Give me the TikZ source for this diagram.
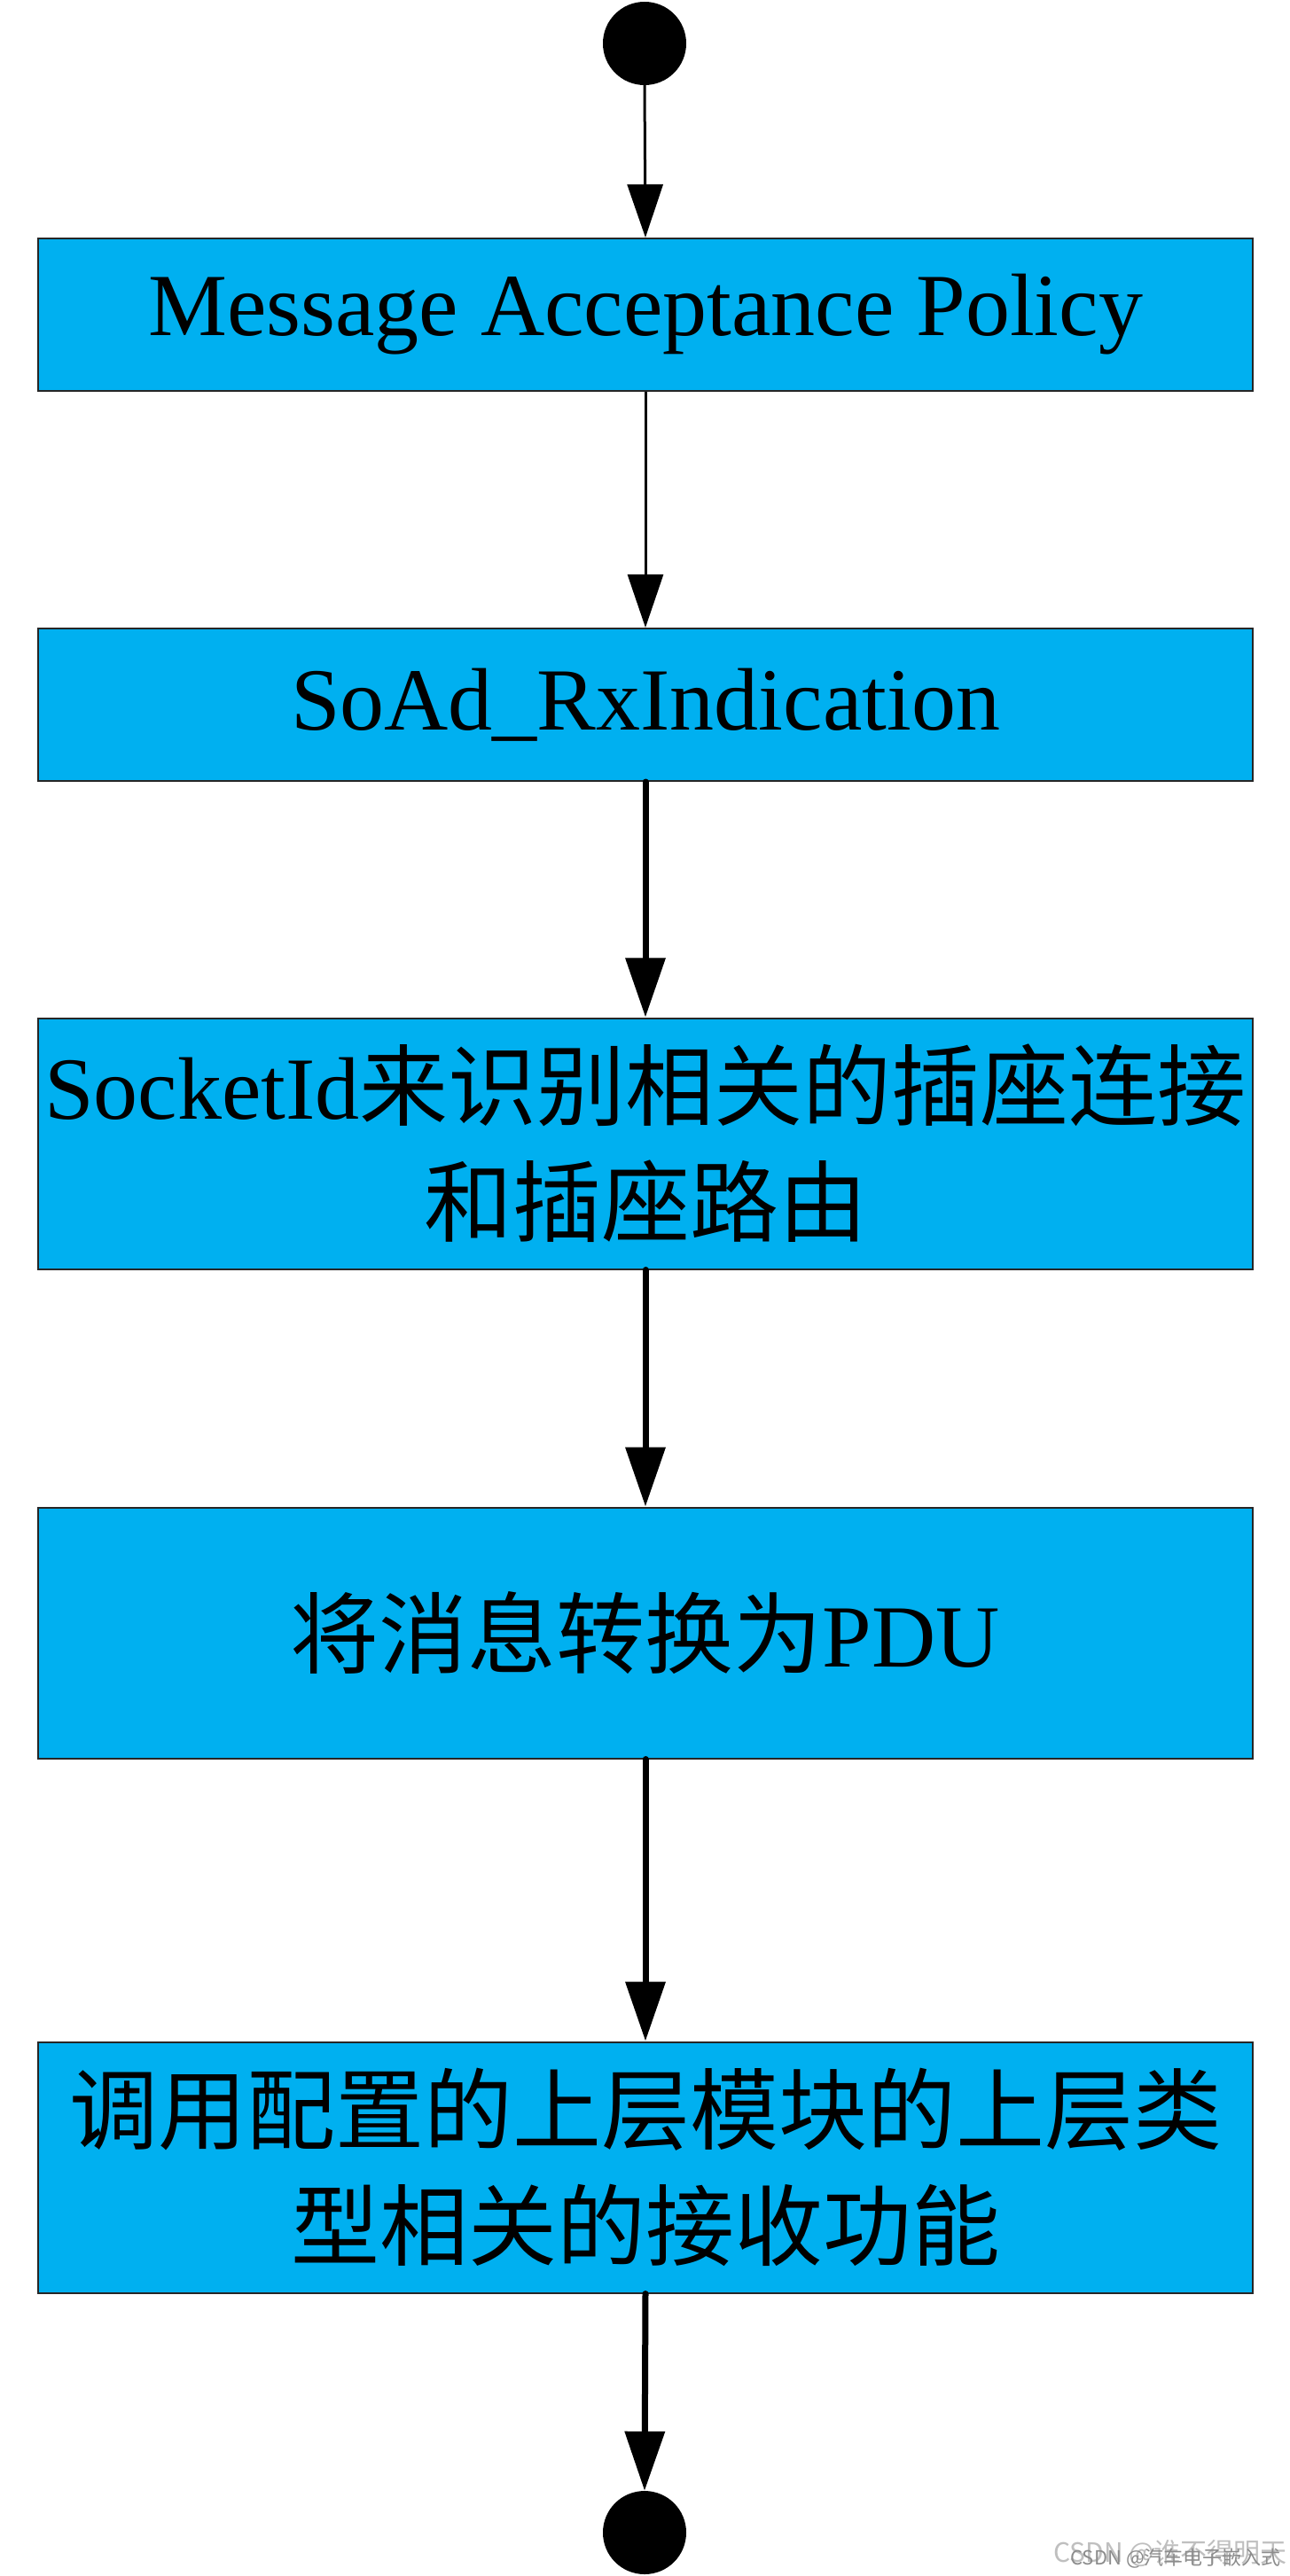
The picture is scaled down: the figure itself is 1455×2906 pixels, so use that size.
\documentclass[tikz,border=0pt]{standalone}
\usepackage{fontspec}
\setmainfont{Liberation Serif}
\newfontfamily\cjk{Noto Sans CJK SC}
\usetikzlibrary{arrows.meta}
\definecolor{boxblue}{HTML}{00B0F0}
\begin{document}
\begin{tikzpicture}[x=1pt,y=-1pt,
  flowbox/.style={draw=black!85,line width=2pt,fill=boxblue,rectangle,inner sep=0pt,
    minimum width=1370pt,align=center,font=\fontsize{100}{131}\selectfont},
  dot/.style={circle,fill=black,draw=none,minimum size=94pt,inner sep=0pt},
  thinarrow/.style={line width=3pt,-{Triangle[width=40pt,length=60pt]}},
  thickarrow/.style={line width=7pt,line cap=round,-{Triangle[width=44pt,length=67pt]}},
  wm/.style={inner sep=0pt,anchor=base east}]
\useasboundingbox (0,0) rectangle (1455,2906);
\node[dot] (s) at (727,49) {};
\node[flowbox,minimum height=172pt] (b1) at (728,355) {Message Acceptance Policy};
\node[flowbox,minimum height=172pt] (b2) at (728,795) {SoAd\_RxIndication};
\node[flowbox,minimum height=283pt] (b3) at (728,1290) {SocketId{\cjk 来识别相关的插座连接}\\{\cjk 和插座路由}};
\node[flowbox,minimum height=283pt] (b4) at (728,1842) {{\cjk 将消息转换为}PDU};
\node[flowbox,minimum height=283pt] (b5) at (728,2445) {{\cjk 调用配置的上层模块的上层类}\\{\cjk 型相关的接收功能}};
\node[dot] (e) at (727,2857) {};
\draw[thinarrow] (s.south) -- (b1.north);
\draw[thinarrow] (b1.south) -- (b2.north);
\draw[thickarrow] (b2.south) -- (b3.north);
\draw[thickarrow] (b3.south) -- (b4.north);
\draw[thickarrow] (b4.south) -- (b5.north);
\draw[thickarrow] (b5.south) -- (e.north);
\node[wm,text=black!25,font=\cjk\fontsize{30}{30}\selectfont] (w1) at (1452,2890) {CSDN @谁不得明天};
\node[wm,text=black!45,font=\cjk\fontsize{22}{22}\selectfont] (w2) at (1445,2893) {CSDN @汽车电子嵌入式};
\end{tikzpicture}
\end{document}
